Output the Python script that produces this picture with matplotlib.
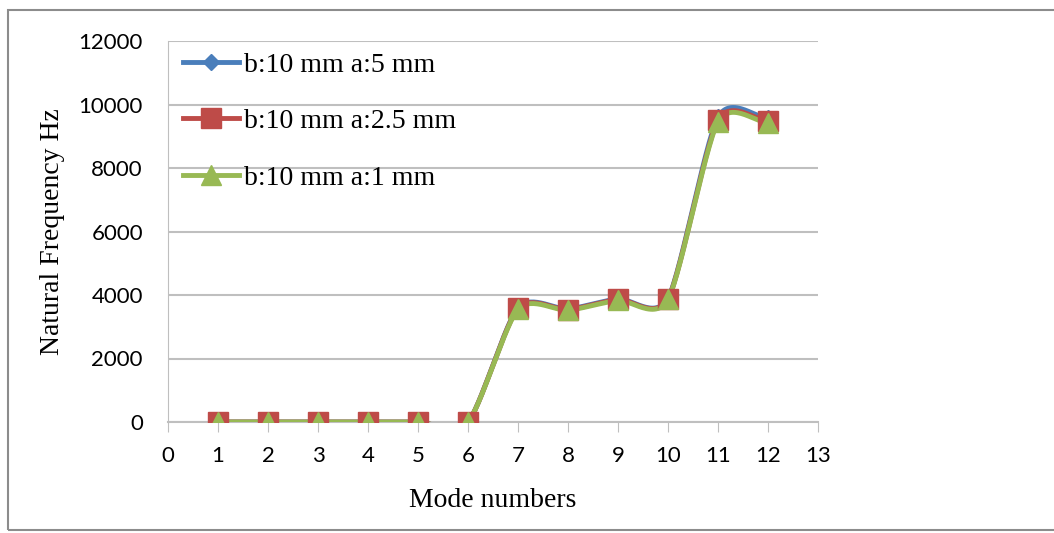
import numpy as np
import matplotlib
matplotlib.use("Agg")
import matplotlib.pyplot as plt
from matplotlib.patches import Rectangle

modes = [1, 2, 3, 4, 5, 6, 7, 8, 9, 10, 11, 12]
freq_a5 = [0, 0, 0, 0, 0, 0, 3600, 3560, 3880, 3900, 9600, 9560]
freq_a25 = [0, 0, 0, 0, 0, 0, 3580, 3540, 3860, 3880, 9500, 9480]
freq_a1 = [0, 0, 0, 0, 0, 0, 3550, 3520, 3830, 3860, 9450, 9420]
labels = ["b:10 mm a:5 mm", "b:10 mm a:2.5 mm", "b:10 mm a:1 mm"]
colors = ["#4a7ebb", "#be4b48", "#98b954"]
markers = ["D", "s", "^"]
msizes = [8, 15, 15]

def smooth(x, y, n=30, k=8.0):
    x = np.asarray(x, float); y = np.asarray(y, float)
    px = np.concatenate([[2*x[0]-x[1]], x, [2*x[-1]-x[-2]]])
    py = np.concatenate([[2*y[0]-y[1]], y, [2*y[-1]-y[-2]]])
    ox, oy = [], []
    for i in range(1, len(px)-2):
        t = np.linspace(0, 1, n, endpoint=False)
        for arr, out in ((px, ox), (py, oy)):
            p0, p1, p2, p3 = arr[i-1], arr[i], arr[i+1], arr[i+2]
            c1 = p1 + (p2 - p0) / k
            c2 = p2 - (p3 - p1) / k
            out.extend((1-t)**3*p1 + 3*(1-t)**2*t*c1 + 3*(1-t)*t**2*c2 + t**3*p2)
    ox.append(x[-1]); oy.append(y[-1])
    return np.array(ox), np.array(oy)

plt.rcParams['font.family'] = ['Liberation Serif', 'DejaVu Serif']
fig = plt.figure(figsize=(10.54, 5.33), dpi=100)
fig.patches.append(Rectangle((8/1054, 3/533), 1.2, 520/533, transform=fig.transFigure,
                             fill=False, edgecolor="#8c8c8c", linewidth=1.5))
ax = fig.add_axes([168/1054, 1-422/533, 650/1054, 381/533])

for ys, lab, c, m, ms in zip([freq_a5, freq_a25, freq_a1], labels, colors, markers, msizes):
    sx, sy = smooth(modes, ys)
    ax.plot(sx, sy, color=c, linewidth=3.5, zorder=3)
    ax.plot(modes, ys, linestyle="none", marker=m, markersize=ms, color=c, zorder=4)
    ax.plot([], [], color=c, linewidth=3.5, marker=m, markersize=ms, label=lab)

ax.set_xlim(0, 13)
ax.set_ylim(0, 12000)
ax.set_xticks(range(0, 14))
ax.set_yticks(range(0, 12001, 2000))
ax.yaxis.grid(True, color="#bfbfbf", linewidth=1.5)
ax.set_axisbelow(True)
for s in ["top", "right"]:
    ax.spines[s].set_visible(False)
ax.spines["left"].set_color("#bfbfbf")
ax.spines["bottom"].set_color("#bfbfbf")
ax.spines["bottom"].set_linewidth(1.5)
ax.tick_params(axis="y", length=0, labelsize=16, pad=18)
ax.tick_params(axis="x", length=7, color="#bfbfbf", labelsize=16, pad=10)
for lbl in ax.get_xticklabels() + ax.get_yticklabels():
    lbl.set_fontfamily(["Lato", "DejaVu Sans"])
ax.set_xlabel("Mode numbers", fontsize=20, labelpad=16)
ax.set_ylabel("Natural Frequency Hz", fontsize=20, labelpad=10)
ax.legend(loc="upper left", frameon=False, fontsize=20, labelspacing=1.12,
          handlelength=2.0, handletextpad=0.2, borderaxespad=0.0,
          bbox_to_anchor=(0.006, 1.0))
fig.savefig("out.png", dpi=100)
